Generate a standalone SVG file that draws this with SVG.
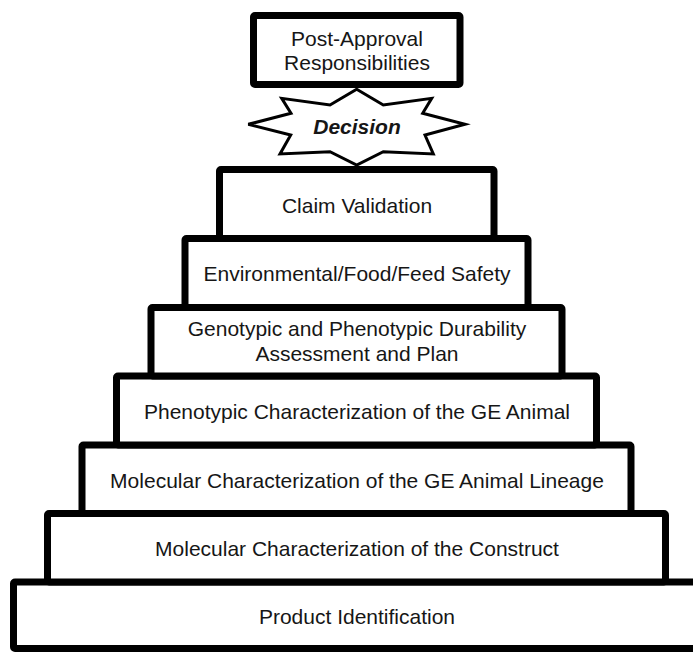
<svg xmlns="http://www.w3.org/2000/svg" width="693" height="652" viewBox="0 0 693 652">
<style>
.box{fill:#fff;stroke:#000;stroke-width:7;stroke-linejoin:round}
.lbl{font-family:"Liberation Sans",Arial,sans-serif;font-size:21px;fill:#161616;text-anchor:middle}
.star{fill:#fff;stroke:#000;stroke-width:3;stroke-linejoin:miter}
.dec{font-family:"Liberation Sans",Arial,sans-serif;font-size:21px;font-weight:bold;font-style:italic;fill:#161616;text-anchor:middle}
</style>
<rect width="693" height="652" fill="#fff"/>
<g id="product-identification">
<rect class="box" x="13.5" y="582" width="690" height="66.5" rx="1.5"/>
<text class="lbl" x="357" y="624">Product Identification</text>
</g>
<g id="molecular-construct">
<rect class="box" x="47.5" y="513.5" width="618" height="68.5" rx="1.5"/>
<text class="lbl" x="357" y="556">Molecular Characterization of the Construct</text>
</g>
<g id="molecular-lineage">
<rect class="box" x="82" y="445" width="549" height="68.5" rx="1.5"/>
<text class="lbl" x="357" y="487.5">Molecular Characterization of the GE Animal Lineage</text>
</g>
<g id="phenotypic-characterization">
<rect class="box" x="116.5" y="376" width="480" height="69" rx="1.5"/>
<text class="lbl" x="357" y="418.5">Phenotypic Characterization of the GE Animal</text>
</g>
<g id="durability-assessment">
<rect class="box" x="151" y="307.5" width="411" height="68.5" rx="1.5"/>
<text class="lbl" x="357" y="336">Genotypic and Phenotypic Durability</text>
<text class="lbl" x="357" y="361">Assessment and Plan</text>
</g>
<g id="environmental-safety">
<rect class="box" x="185" y="238.5" width="343" height="69" rx="1.5"/>
<text class="lbl" x="357" y="281">Environmental/Food/Feed Safety</text>
</g>
<g id="claim-validation">
<rect class="box" x="219.5" y="169.5" width="274.5" height="69" rx="1.5"/>
<text class="lbl" x="357" y="213">Claim Validation</text>
</g>
<g id="decision">
<polygon class="star" points="356.7,89.3 383.3,105 431.7,98.3 422.7,113.3 465,124.3 425,135 433.3,154 383.3,151.7 356.7,165 330,151.7 280,154 290.7,135 248.3,124.3 291,113.3 281.7,98.3 330,105"/>
<text class="dec" x="357" y="134">Decision</text>
</g>
<g id="post-approval">
<rect class="box" x="253.5" y="15.5" width="206.5" height="69" rx="1.5"/>
<text class="lbl" x="357" y="46">Post-Approval</text>
<text class="lbl" x="357" y="69.5">Responsibilities</text>
</g>
</svg>
